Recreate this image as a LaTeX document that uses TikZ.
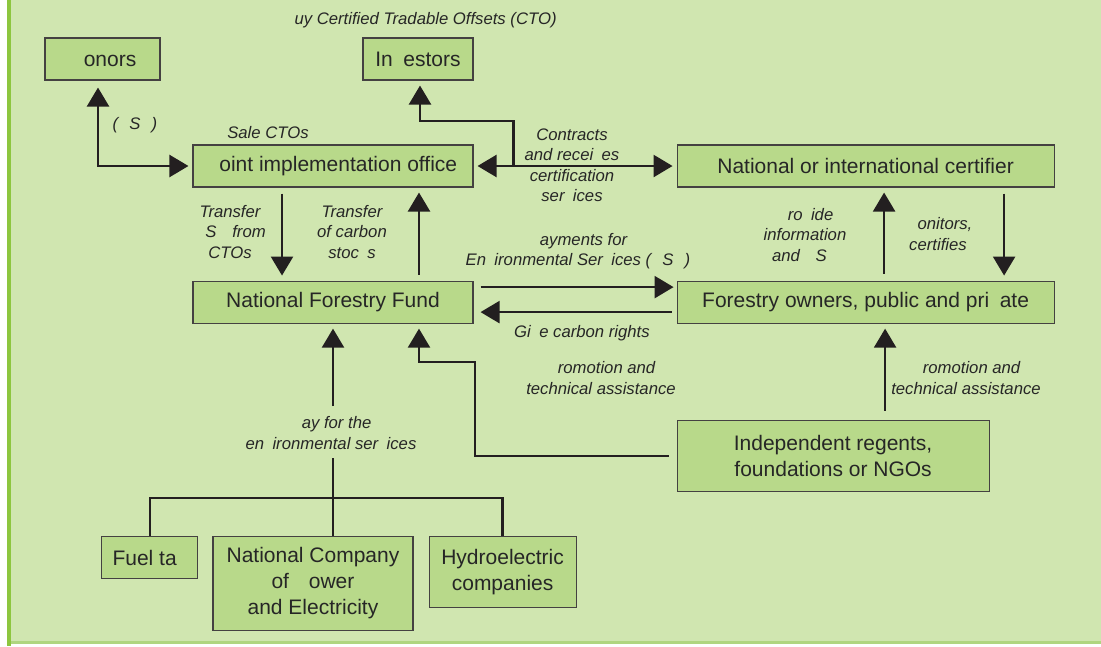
\documentclass[tikz,border=0pt]{standalone}
\usepackage{fontspec}
\setmainfont{Liberation Sans}
\usetikzlibrary{arrows.meta, positioning}

\definecolor{bggreen}{RGB}{208,230,176}
\definecolor{boxgreen}{RGB}{184,217,138}
\definecolor{bargreen}{RGB}{141,198,63}
\definecolor{edgegreen}{RGB}{176,214,128}
\definecolor{inkdark}{RGB}{35,31,32}
\definecolor{textdark}{RGB}{38,38,38}

% blank of the width of a letter the print has lost
\newcommand{\gap}[1]{\phantom{#1}}

\begin{document}
\begin{tikzpicture}[
  x=1pt, y=-1pt,
  %--- style definitions ---
  box/.style    = {rectangle, draw=inkdark!85, fill=boxgreen, line width=1.1pt,
                   minimum height=42pt, inner sep=2pt, align=center,
                   text=textdark, font=\fontsize{21}{26}\selectfont},
  note/.style   = {align=center, inner sep=0pt, text=textdark,
                   font=\itshape\fontsize{16.7}{20.5}\selectfont},
  link/.style   = {line width=2.4pt, draw=inkdark},
  arrow/.style  = {link, -{Triangle[length=19pt,width=22pt]},
                   shorten >=5pt, shorten <=6pt},
  darrow/.style = {link, {Triangle[length=19pt,width=22pt]}-{Triangle[length=19pt,width=22pt]},
                   shorten >=4pt, shorten <=4pt},
]

%% -- FRAME ------------------------------------------------------------------
\useasboundingbox (0,0) rectangle (1101,646);
\fill[white]     (0,0)  rectangle (1101,646);
\fill[bggreen]   (10,0) rectangle (1101,642);
\fill[edgegreen] (10,641) rectangle (1101,643.5);
\fill[bargreen]  (7,0)  rectangle (10.5,646);

%% -- TOP ROW ----------------------------------------------------------------
\node[box, minimum width=115pt] (don) at (102.5,59) {\gap{D}onors};
\node[box, minimum width=110pt] (inv) at (418,59)   {In\gap{v}estors};

%% -- MIDDLE ROWS ------------------------------------------------------------
\node[box, minimum width=280pt] (jio) at (333,166) {\gap{J}oint implementation office};
\node[box, minimum width=280pt, below=93pt of jio]  (nff)  {National Forestry Fund};
\node[box, minimum width=377pt, right=203pt of jio] (cert) {National or international certifier};
\node[box, minimum width=377pt, below=93pt of cert] (for)  {Forestry owners, public and pri\gap{v}ate};

%% -- SUPPORT ----------------------------------------------------------------
\node[box, minimum width=312pt, minimum height=71pt, anchor=north west]
      (ind) at ([yshift=-96pt]for.south west) {Independent regents,\\ foundations or NGOs};

%% -- PAYERS -----------------------------------------------------------------
\node[box, minimum width=200pt, minimum height=94pt, anchor=north] (nco) at (313,536)
      {National Company\\ of \gap{P}ower\\ and Electricity};
\node[box, minimum width=96pt, anchor=north east] (fuel) at ([xshift=-14pt]nco.north west)
      {Fuel ta\gap{x}};
\node[box, minimum width=147pt, minimum height=71pt, anchor=north west] (hyd) at ([xshift=15pt]nco.north east)
      {Hydroelectric\\ companies};

%% -- LABELS -----------------------------------------------------------------
\node[note] (buy)    at (420,20)  {\gap{B}uy Certified Tradable Offsets (CTO)};
\node[note] (psa)    at (135,125) {(\gap{P}S\gap{A})};
\node[note] (sale)   at (268,133) {Sale CTOs};
\node[note] (contr)  at (572,165) {Contracts\\ and recei\gap{v}es\\ certification\\ ser\gap{v}ices};
\node[note] (trpsa)  at (230,232) {Transfer\\ \gap{P}S\gap{A} from\\ CTOs};
\node[note] (trstk)  at (352,232) {Transfer\\ of carbon\\ stoc\gap{k}s};
\node[note] (pays)   at (578,251) {\gap{P}ayments for\\ En\gap{v}ironmental Ser\gap{v}ices (\gap{P}S\gap{A})};
\node[note] (give)   at (582,333) {Gi\gap{v}e carbon rights};
\node[note] (promoa) at (601,378) {\gap{P}romotion and\\ technical assistance};
\node[note] (promob) at (966,378) {\gap{P}romotion and\\ technical assistance};
\node[note] (prov)   at (805,235) {\gap{P}ro\gap{v}ide\\ information\\ and \gap{P}S\gap{A}};
\node[note] (moni)   at (938,234) {\gap{M}onitors,\\ certifies};
\node[note] (payfor) at (331,433) {\gap{P}ay for the\\ en\gap{v}ironmental ser\gap{v}ices};

%% -- ARROWS -----------------------------------------------------------------
\draw[darrow, shorten <=7pt] ([xshift=-4.5pt]don.south) |- (jio.west);
\draw[darrow] (jio.east) -- (cert.west);

% branch up to the investors
\coordinate (split) at ([xshift=40pt]jio.east);
\draw[arrow, shorten <=0pt] (split) -- ++(0,-45) -| ([xshift=2pt]inv.south);

\draw[arrow] ([xshift=-51pt]jio.south) -- ([xshift=-51pt]nff.north);
\draw[arrow] ([xshift=86pt]nff.north)  -- ([xshift=86pt]jio.south);

\draw[arrow, shorten <=7pt, shorten >=3pt] ([yshift=15pt]nff.east) -- ([yshift=15pt]for.west);
\draw[arrow, shorten <=5pt, shorten >=7pt] ([yshift=-10pt]for.west) -- ([yshift=-10pt]nff.east);

\draw[arrow, shorten <=7pt] ([xshift=18.5pt]for.north)   -- ([xshift=18.5pt]cert.south);
\draw[arrow]                ([xshift=138.5pt]cert.south) -- ([xshift=138.5pt]for.north);

% support lines
\draw[arrow, shorten <=9pt] ([xshift=52pt]ind.north) -- ([xshift=52pt]ind.north |- for.south);
\coordinate (bend) at (475,362);
\draw[arrow, shorten <=8pt] (ind.west) -| (bend) -| ([xshift=86pt]nff.south);

% payers join and feed the fund
\coordinate (tree) at (333,498);
\draw[link] (fuel.north) |- (tree) -| (hyd.north);
\draw[link] (nco.north -| tree) -- ++(0,-78);
\coordinate (paytop) at (333,406);
\draw[arrow, shorten <=0pt] (paytop) -- (nff.south);

\end{tikzpicture}
\end{document}
